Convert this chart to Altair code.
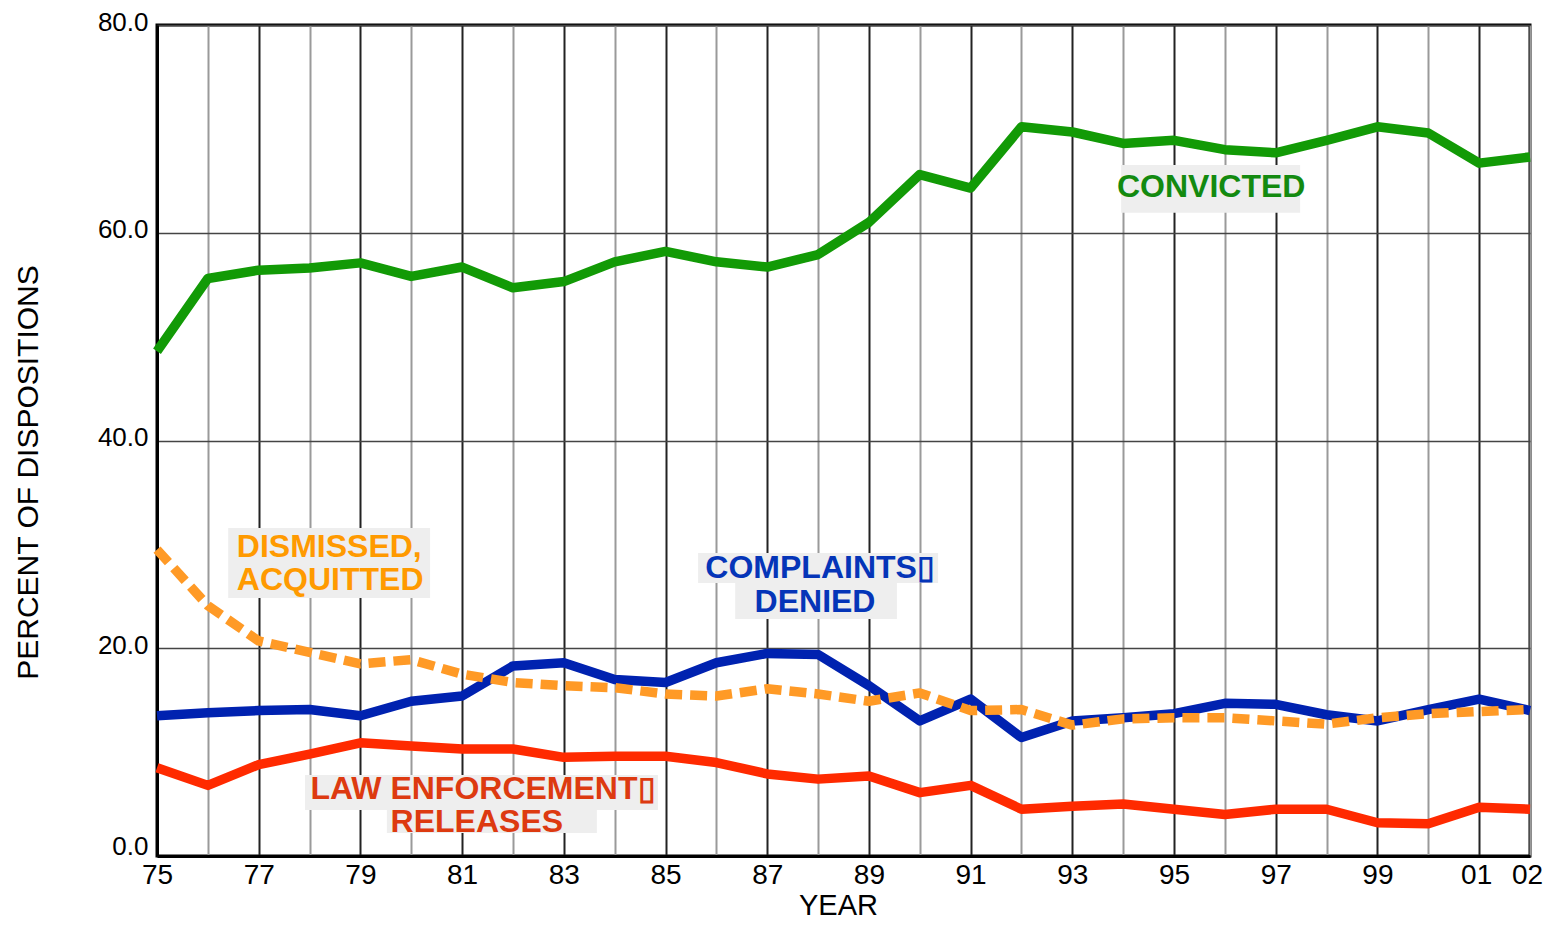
import altair as alt
import pandas as pd

# ---------------- data ----------------
years = list(range(1975, 2003))
tick_labels = ["75", "", "77", "", "79", "", "81", "", "83", "", "85", "", "87", "",
               "89", "", "91", "", "93", "", "95", "", "97", "", "99", "", "01", "02"]
y_ticks = [0, 20, 40, 60, 80]

convicted = [48.6, 55.6, 56.4, 56.6, 57.1, 55.8, 56.7, 54.7, 55.3, 57.2, 58.2, 57.2, 56.7, 57.9,
             61.0, 65.6, 64.3, 70.2, 69.7, 68.6, 68.9, 68.0, 67.7, 68.9, 70.2, 69.6, 66.7, 67.3]
dismissed = [29.5, 24.1, 20.7, 19.6, 18.5, 18.9, 17.5, 16.7, 16.4, 16.2, 15.6, 15.4, 16.1, 15.6,
             14.9, 15.7, 14.0, 14.1, 12.6, 13.2, 13.3, 13.3, 13.0, 12.7, 13.3, 13.7, 13.9, 14.1]
complaints = [13.5, 13.8, 14.0, 14.1, 13.5, 14.9, 15.4, 18.3, 18.6, 17.0, 16.7, 18.6, 19.5, 19.4,
              16.4, 13.0, 15.1, 11.4, 13.0, 13.3, 13.7, 14.7, 14.6, 13.6, 13.0, 14.1, 15.1, 14.0]
law_releases = [8.5, 6.8, 8.8, 9.8, 10.9, 10.6, 10.3, 10.3, 9.5, 9.6, 9.6, 9.0, 7.9, 7.4,
                7.7, 6.1, 6.8, 4.5, 4.8, 5.0, 4.5, 4.0, 4.5, 4.5, 3.2, 3.1, 4.7, 4.5]

# annotation labels (anchor in data units: year, percent)
label_text = ["CONVICTED", "DISMISSED,", "ACQUITTED", "COMPLAINTS\u25af", "DENIED",
              "LAW ENFORCEMENT\u25af", "RELEASES"]
label_year = [1995.73, 1976.57, 1976.57, 1988.04, 1987.94, 1981.41, 1981.29]
label_pct = [64.45, 29.75, 26.57, 27.73, 24.45, 6.45, 3.27]
label_group = ["conv", "dism", "dism", "comp", "comp", "law", "law"]

# label background boxes (data units)
box_year1 = [1993.96, 1976.40, 1985.64, 1986.37, 1977.91, 1979.52]
box_year2 = [1997.48, 1980.37, 1990.36, 1989.55, 1984.85, 1983.65]
box_pct1 = [61.93, 24.84, 26.28, 22.82, 4.43, 2.21]
box_pct2 = [66.53, 31.58, 29.17, 26.28, 7.80, 4.43]

# ---------------- tables ----------------
def series_df(vals):
    return pd.DataFrame({"year": years, "value": vals})

labels_df = pd.DataFrame({"year": label_year, "value": label_pct, "text": label_text, "group": label_group})
boxes_df = pd.DataFrame({"x1": box_year1, "x2": box_year2, "y1": box_pct1, "y2": box_pct2})

FONT = "Liberation Sans"

label_expr = "[" + ",".join("'" + t + "'" for t in tick_labels) + "][datum.value - %d]" % years[0]

x_scale = alt.Scale(domain=[years[0], years[-1]], nice=False, zero=False)
y_scale = alt.Scale(domain=[y_ticks[0], y_ticks[-1]], nice=False, zero=True)

x_axis = alt.Axis(
    values=years, labelExpr=label_expr, labelOverlap=False, labelFlush=False,
    labelOffset={"condition": {"test": "datum.value >= 2001", "value": -3}, "value": 0},
    grid=True,
    gridColor={"condition": {"test": "datum.value % 2 == 1", "value": "#222222"}, "value": "#9a9a9a"},
    gridWidth=2, ticks=False, domainColor="black", domainWidth=3,
    labelFont=FONT, labelFontSize=28, labelColor="black", labelPadding=5,
    title="YEAR", titleFont=FONT, titleFontSize=29, titleFontWeight="normal", titleColor="black",
    titleX=681, titleY=64, titleBaseline="bottom", titleAlign="center",
)
y_axis = alt.Axis(
    values=y_ticks, format=".1f", grid=True, gridColor="#444444", gridWidth=1.5,
    ticks=False, domainColor="black", domainWidth=3,
    labelFont=FONT, labelFontSize=26, labelColor="black", labelPadding=9,
    labelBaseline="middle",
    labelOffset={"condition": {"test": "datum.value == 0", "value": -10}, "value": -3},
    title="PERCENT OF DISPOSITIONS", titleFont=FONT, titleFontSize=30, titleFontWeight="normal",
    titleColor="black", titleAngle=-90, titleX=-129, titleY=447, titleBaseline="middle",
    titleAlign="center",
)

X = alt.X("year:Q", scale=x_scale, axis=x_axis)
Y = alt.Y("value:Q", scale=y_scale, axis=y_axis)

boxes = alt.Chart(boxes_df).mark_rect(color="#eeeeee").encode(
    x=alt.X("x1:Q", scale=x_scale, axis=x_axis), x2="x2:Q",
    y=alt.Y("y1:Q", scale=y_scale, axis=y_axis), y2="y2:Q",
)

def line(vals, color, dash=None):
    kw = dict(color=color, strokeWidth=9.5, strokeJoin="round", strokeCap="butt")
    if dash:
        kw["strokeDash"] = dash
    return alt.Chart(series_df(vals)).mark_line(**kw).encode(x=X, y=Y)

l_law = line(law_releases, "#ff2a00")
l_comp = line(complaints, "#0022b0")
l_dism = line(dismissed, "#ff9a26", dash=[17, 8])
l_conv = line(convicted, "#129a06")

def text_layer(group, color, align):
    return alt.Chart(labels_df).transform_filter(
        alt.datum.group == group
    ).mark_text(
        font=FONT, fontSize=32, fontWeight="bold", color=color, align=align, baseline="middle"
    ).encode(x=X, y=Y, text="text:N")

t_conv = text_layer("conv", "#138a10", "center")
t_dism = text_layer("dism", "#ff9a00", "left")
t_comp = text_layer("comp", "#0535b8", "center")
t_law = text_layer("law", "#dd3a10", "center")

chart = alt.layer(
    boxes, l_law, l_comp, l_dism, l_conv, t_conv, t_dism, t_comp, t_law
).properties(
    width=1373, height=831,
    autosize=alt.AutoSizeParams(type="none"),
    padding={"left": 149, "top": 17, "right": 13, "bottom": 64},
    background="white",
).configure_view(stroke="black", strokeWidth=3)

chart.save("out.html", embed_options={"renderer": "svg", "actions": False})
